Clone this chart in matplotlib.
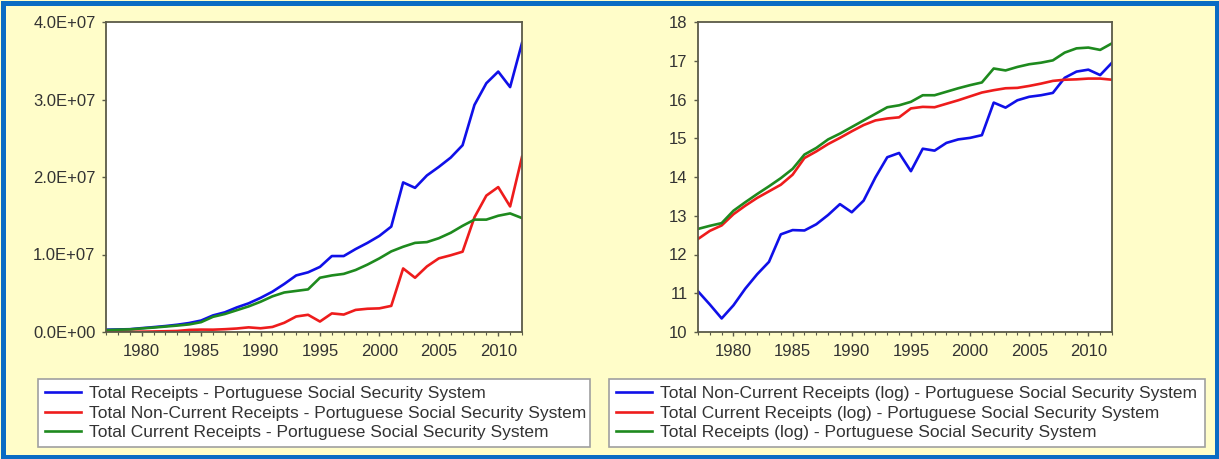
import matplotlib
matplotlib.use("Agg")
import matplotlib.pyplot as plt
from matplotlib.patches import Rectangle
from matplotlib.ticker import FuncFormatter, MultipleLocator, FixedLocator

years = list(range(1977, 2013))

# Left chart (levels, units of 1e7)
total_receipts = [0.030, 0.033, 0.036, 0.050, 0.063, 0.077, 0.094, 0.116, 0.148, 0.214,
                  0.254, 0.317, 0.370, 0.440, 0.520, 0.620, 0.730, 0.770, 0.840, 0.980,
                  0.980, 1.070, 1.150, 1.240, 1.360, 1.930, 1.860, 2.020, 2.130, 2.250,
                  2.410, 2.930, 3.210, 3.360, 3.160, 3.730]
non_current_receipts = [0.006, 0.0045, 0.003, 0.0044, 0.0068, 0.0098, 0.0135, 0.027, 0.031, 0.030,
                        0.036, 0.045, 0.060, 0.048, 0.065, 0.119, 0.200, 0.222, 0.135, 0.240,
                        0.225, 0.285, 0.300, 0.305, 0.337, 0.820, 0.700, 0.846, 0.950, 0.990,
                        1.036, 1.480, 1.760, 1.870, 1.620, 2.260]
current_receipts = [0.024, 0.030, 0.034, 0.046, 0.057, 0.070, 0.083, 0.098, 0.127, 0.196,
                    0.232, 0.281, 0.330, 0.390, 0.460, 0.510, 0.530, 0.550, 0.700, 0.730,
                    0.750, 0.800, 0.870, 0.950, 1.040, 1.100, 1.150, 1.160, 1.210, 1.280,
                    1.370, 1.450, 1.450, 1.500, 1.530, 1.470]

# Right chart (logs)
log_non_current = [11.05, 10.71, 10.35, 10.69, 11.12, 11.49, 11.81, 12.52, 12.63, 12.62,
                   12.78, 13.02, 13.30, 13.09, 13.39, 13.99, 14.51, 14.62, 14.15, 14.73,
                   14.68, 14.88, 14.97, 15.01, 15.08, 15.92, 15.79, 15.98, 16.07, 16.11,
                   16.17, 16.56, 16.72, 16.77, 16.63, 16.95]
log_current = [12.40, 12.61, 12.75, 13.04, 13.26, 13.46, 13.63, 13.80, 14.06, 14.49,
               14.66, 14.85, 15.01, 15.18, 15.34, 15.46, 15.51, 15.54, 15.77, 15.81,
               15.80, 15.89, 15.98, 16.08, 16.18, 16.24, 16.29, 16.30, 16.35, 16.41,
               16.48, 16.51, 16.52, 16.54, 16.54, 16.51]
log_total = [12.66, 12.74, 12.81, 13.13, 13.35, 13.56, 13.76, 13.97, 14.21, 14.58,
             14.75, 14.97, 15.12, 15.29, 15.46, 15.63, 15.80, 15.85, 15.94, 16.11,
             16.11, 16.20, 16.29, 16.37, 16.44, 16.80, 16.75, 16.84, 16.91, 16.95,
             17.01, 17.21, 17.32, 17.34, 17.28, 17.45]

left_labels = ["Total Receipts - Portuguese Social Security System",
               "Total Non-Current Receipts - Portuguese Social Security System",
               "Total Current Receipts - Portuguese Social Security System"]
right_labels = ["Total Non-Current Receipts (log) - Portuguese Social Security System",
                "Total Current Receipts (log) - Portuguese Social Security System",
                "Total Receipts (log) - Portuguese Social Security System"]

BLUE = "#1010E8"
RED = "#EE1C1C"
GREEN = "#1E8A1E"
BG = "#FFFDC9"
FRAME = "#5A5A48"
TXT = "#333333"

plt.rcParams['font.family'] = ['Liberation Sans', 'DejaVu Sans']

W, H = 1219, 459
fig = plt.figure(figsize=(W / 100, H / 100), dpi=100)
fig.patch.set_facecolor(BG)

def fx(px):
    return px / W

def fy(py):
    return 1 - py / H

axL = fig.add_axes([fx(106), fy(332), fx(522 - 106), (332 - 22) / H])
axR = fig.add_axes([fx(698), fy(332), fx(1112 - 698), (332 - 22) / H])

lw = 1.9
sc = 1e7
axL.plot(years, [v * sc for v in total_receipts], color=BLUE, lw=lw, label=left_labels[0])
axL.plot(years, [v * sc for v in non_current_receipts], color=RED, lw=lw, label=left_labels[1])
axL.plot(years, [v * sc for v in current_receipts], color=GREEN, lw=lw, label=left_labels[2])
axL.set_ylim(0, 4e7)
axL.yaxis.set_major_locator(MultipleLocator(1e7))
axL.yaxis.set_major_formatter(FuncFormatter(lambda v, p: f"{v:.1E}"))

axR.plot(years, log_non_current, color=BLUE, lw=lw, label=right_labels[0])
axR.plot(years, log_current, color=RED, lw=lw, label=right_labels[1])
axR.plot(years, log_total, color=GREEN, lw=lw, label=right_labels[2])
axR.set_ylim(10, 18)
axR.yaxis.set_major_locator(MultipleLocator(1))

for ax in (axL, axR):
    ax.set_facecolor("white")
    ax.set_xlim(1977, 2012)
    ax.xaxis.set_major_locator(FixedLocator([1980, 1985, 1990, 1995, 2000, 2005, 2010]))
    ax.xaxis.set_minor_locator(MultipleLocator(1))
    for s in ax.spines.values():
        s.set_color(FRAME)
        s.set_linewidth(1.3)
    ax.tick_params(axis='x', which='major', direction='out', length=3, width=1,
                   color=FRAME, pad=5.5, labelsize=12, labelcolor=TXT)
    ax.tick_params(axis='x', which='minor', direction='out', length=2.5, width=0.8, color=FRAME)
    ax.tick_params(axis='y', which='major', direction='out', length=3, width=1,
                   color=FRAME, pad=4.5, labelsize=12, labelcolor=TXT)

legkw = dict(loc='lower left', mode='expand', ncol=1, fontsize=12.5, frameon=True,
             fancybox=False, edgecolor="#A0A0A0", facecolor="white", framealpha=1,
             handlelength=2.1, handletextpad=0.45, labelspacing=0.26, borderpad=0.38,
             borderaxespad=0)
legL = fig.legend(handles=axL.get_lines(), labels=left_labels,
                  bbox_to_anchor=(fx(38), 12 / H, fx(590 - 38), 70 / H), **legkw)
legR = fig.legend(handles=axR.get_lines(), labels=right_labels,
                  bbox_to_anchor=(fx(609), 12 / H, fx(1205 - 609), 70 / H), **legkw)
for leg in (legL, legR):
    leg.get_frame().set_linewidth(1.2)
    for t in leg.get_texts():
        t.set_color(TXT)

# outer blue frame
fig.patches.append(Rectangle((2.5 / W, 2.5 / H), 1 - 5 / W, 1 - 5 / H,
                             transform=fig.transFigure, fill=False,
                             edgecolor="#0A6CC4", linewidth=3.6))

fig.savefig("out.png", dpi=100, facecolor=fig.get_facecolor())
